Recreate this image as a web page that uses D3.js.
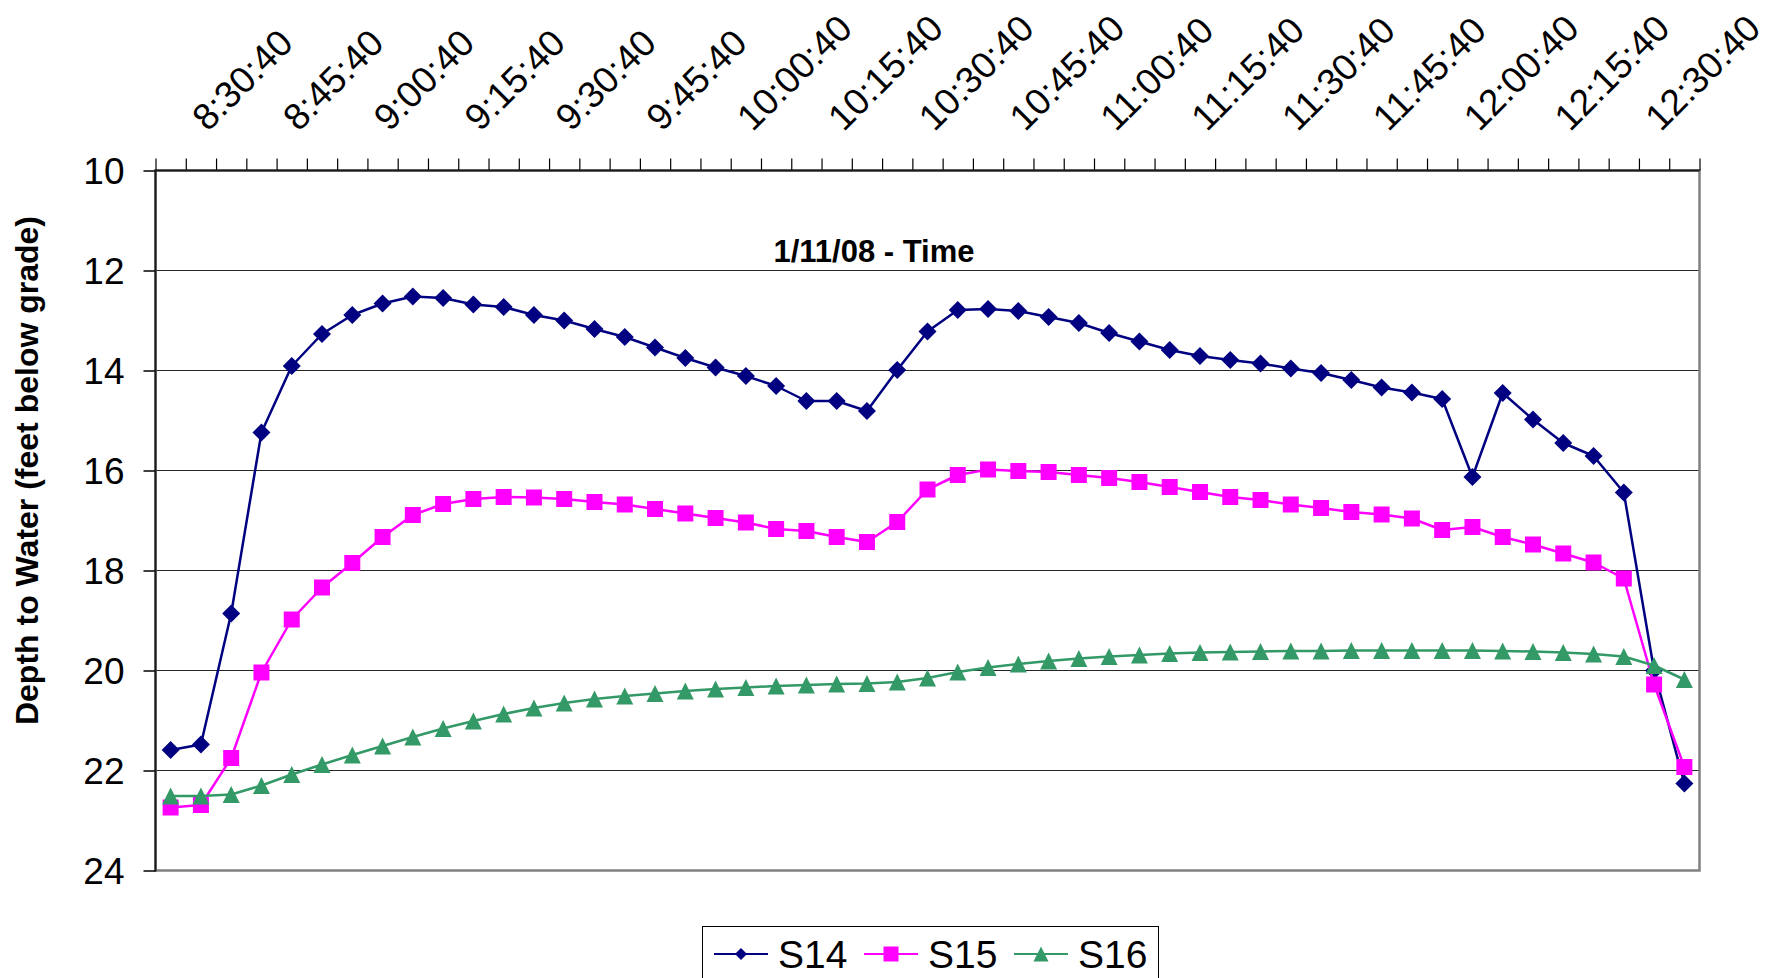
<!doctype html>
<html>
<head>
<meta charset="UTF-8">
<title>Depth to Water</title>
<script src="https://d3js.org/d3.v7.min.js"></script>
<style>
	body {
		margin: 0;
		background: #fff;
	}
	.chart text {
		font-family: 'Liberation Sans', Arial, sans-serif;
		fill: #000;
	}
	.axis path {
		display: none;
	}
	.axis line {
		stroke: #000;
	}
</style>
</head>

<body>
<svg class="chart" width="1767" height="978"></svg>
<script>
// readings, one per 5 minutes
var times = [
	'8:30:40', '8:35:40', '8:40:40', '8:45:40', '8:50:40', '8:55:40',
	'9:00:40', '9:05:40', '9:10:40', '9:15:40', '9:20:40', '9:25:40',
	'9:30:40', '9:35:40', '9:40:40', '9:45:40', '9:50:40', '9:55:40',
	'10:00:40', '10:05:40', '10:10:40', '10:15:40', '10:20:40', '10:25:40',
	'10:30:40', '10:35:40', '10:40:40', '10:45:40', '10:50:40', '10:55:40',
	'11:00:40', '11:05:40', '11:10:40', '11:15:40', '11:20:40', '11:25:40',
	'11:30:40', '11:35:40', '11:40:40', '11:45:40', '11:50:40', '11:55:40',
	'12:00:40', '12:05:40', '12:10:40', '12:15:40', '12:20:40', '12:25:40',
	'12:30:40', '12:35:40', '12:40:40'
];
var labelTimes = [
	'8:30:40', '8:45:40', '9:00:40', '9:15:40', '9:30:40', '9:45:40',
	'10:00:40', '10:15:40', '10:30:40', '10:45:40', '11:00:40', '11:15:40',
	'11:30:40', '11:45:40', '12:00:40', '12:15:40', '12:30:40'
];
var s14 = [
	21.59, 21.48, 18.86, 15.24, 13.91, 13.27, 12.89, 12.66, 12.52, 12.55,
	12.68, 12.73, 12.89, 13.00, 13.17, 13.33, 13.54, 13.75, 13.94, 14.11,
	14.31, 14.61, 14.61, 14.81, 13.99, 13.22, 12.79, 12.77, 12.81, 12.93,
	13.05, 13.25, 13.42, 13.59, 13.71, 13.79, 13.86, 13.96, 14.05, 14.19,
	14.34, 14.44, 14.57, 16.13, 14.45, 14.98, 15.45, 15.71, 16.44, 20.00,
	22.26
];
var s15 = [
	22.74, 22.69, 21.75, 20.04, 18.98, 18.34, 17.85, 17.33, 16.89, 16.67,
	16.57, 16.53, 16.54, 16.57, 16.63, 16.68, 16.77, 16.86, 16.95, 17.04,
	17.17, 17.21, 17.33, 17.43, 17.03, 16.38, 16.09, 15.98, 16.01, 16.03,
	16.09, 16.15, 16.23, 16.33, 16.43, 16.53, 16.59, 16.68, 16.75, 16.83,
	16.88, 16.96, 17.19, 17.13, 17.33, 17.48, 17.66, 17.84, 18.16, 20.28,
	21.93
];
var s16 = [
	22.51, 22.51, 22.48, 22.30, 22.08, 21.88, 21.69, 21.51, 21.33, 21.16,
	21.01, 20.87, 20.75, 20.65, 20.57, 20.51, 20.46, 20.41, 20.37, 20.34,
	20.31, 20.29, 20.27, 20.26, 20.23, 20.15, 20.03, 19.94, 19.87, 19.81,
	19.76, 19.72, 19.69, 19.66, 19.64, 19.63, 19.62, 19.61, 19.61, 19.60,
	19.60, 19.60, 19.60, 19.60, 19.61, 19.62, 19.64, 19.67, 19.72, 19.90,
	20.18
];
var seriesNames = ['S14', 'S15', 'S16'];
var yTicks = [10, 12, 14, 16, 18, 20, 22, 24];

var series = [
	{name: seriesNames[0], values: s14, color: '#000080', marker: 'diamond'},
	{name: seriesNames[1], values: s15, color: '#ff00ff', marker: 'square'},
	{name: seriesNames[2], values: s16, color: '#339966', marker: 'triangle'}
];

var chart = d3.select('.chart');
var plot = {left: 155.5, right: 1699.5, top: 170.5, bottom: 870.5};

var x = d3.scaleBand()
	.domain(times)
	.range([plot.left, plot.right]);
var xEdge = d3.scaleLinear()
	.domain([0, times.length])
	.range([plot.left, plot.right]);
var y = d3.scaleLinear()
	.domain([10, 24])
	.range([plot.top, plot.bottom]);

function cx(d, i) {
	return x(times[i]) + x.bandwidth() / 2;
}
function markerPath(type, r) {
	if (type === 'diamond') {
		return 'M0,' + (-r) + 'L' + r + ',0L0,' + r + 'L' + (-r) + ',0Z';
	}
	if (type === 'square') {
		return 'M' + (-r) + ',' + (-r) + 'H' + r + 'V' + r + 'H' + (-r) + 'Z';
	}
	return 'M0,' + (-r) + 'L' + r + ',' + r + 'L' + (-r) + ',' + r + 'Z';
}
var markerSize = {diamond: 9, square: 8, triangle: 8.5};

// gridlines
chart.append('g')
	.selectAll('line')
	.data(yTicks.slice(1, -1))
	.enter().append('line')
	.attr('x1', plot.left)
	.attr('x2', plot.right)
	.attr('y1', y)
	.attr('y2', y)
	.attr('stroke', '#262626')
	.attr('stroke-width', 1);

// plot area border
chart.append('rect')
	.attr('x', plot.left)
	.attr('y', plot.top)
	.attr('width', plot.right - plot.left)
	.attr('height', plot.bottom - plot.top)
	.attr('fill', 'none')
	.attr('stroke', '#808080')
	.attr('stroke-width', 2.5);

// category ticks between readings (axis sits on top, y is reversed)
chart.append('g')
	.attr('class', 'axis')
	.attr('transform', 'translate(0,' + plot.top + ')')
	.call(d3.axisTop(xEdge).tickValues(d3.range(times.length + 1)).tickSize(12).tickFormat(''))
	.selectAll('line')
	.attr('stroke-width', 1.2);

var xLabels = chart.append('g')
	.attr('class', 'axis')
	.attr('transform', 'translate(0,' + plot.top + ')')
	.call(d3.axisTop(x).tickValues(labelTimes).tickSize(0));
xLabels.selectAll('text')
	.attr('x', 0)
	.attr('y', 0)
	.attr('dy', 0)
	.attr('text-anchor', 'start')
	.attr('transform', 'translate(37,-38) rotate(-45)')
	.style('font-size', '37px');

var yAxis = chart.append('g')
	.attr('class', 'axis')
	.attr('transform', 'translate(' + plot.left + ',0)')
	.call(d3.axisLeft(y).tickValues(yTicks).tickSize(12).tickPadding(19));
yAxis.selectAll('line')
	.attr('stroke-width', 1.5);
yAxis.selectAll('text')
	.attr('dy', '0.36em')
	.style('font-size', '37px');

// axis lines
chart.append('line')
	.attr('x1', plot.left - 1)
	.attr('x2', plot.right)
	.attr('y1', plot.top)
	.attr('y2', plot.top)
	.attr('stroke', '#1a1a1a')
	.attr('stroke-width', 2);
chart.append('line')
	.attr('x1', plot.left)
	.attr('x2', plot.left)
	.attr('y1', plot.top)
	.attr('y2', plot.bottom + 1)
	.attr('stroke', '#1a1a1a')
	.attr('stroke-width', 2);

// series
var line = d3.line()
	.x(cx)
	.y(function(d) {
		return y(d);
	});
var groups = chart.selectAll('.series')
	.data(series)
	.enter().append('g')
	.attr('class', 'series');
groups.append('path')
	.attr('d', function(s) {
		return line(s.values);
	})
	.attr('fill', 'none')
	.attr('stroke', function(s) {
		return s.color;
	})
	.attr('stroke-width', 2.5)
	.attr('stroke-linejoin', 'round');
groups.each(function(s) {
	d3.select(this).selectAll('.pt')
		.data(s.values)
		.enter().append('path')
		.attr('class', 'pt')
		.attr('transform', function(d, i) {
			return 'translate(' + cx(d, i) + ',' + y(d) + ')';
		})
		.attr('d', markerPath(s.marker, markerSize[s.marker]))
		.attr('fill', s.color);
});

// titles
chart.append('text')
	.attr('x', 874)
	.attr('y', 262)
	.attr('text-anchor', 'middle')
	.style('font-size', '31px')
	.style('font-weight', 'bold')
	.text('1/11/08 - Time');
chart.append('text')
	.attr('transform', 'translate(38,470.5) rotate(-90)')
	.attr('text-anchor', 'middle')
	.style('font-size', '32px')
	.style('font-weight', 'bold')
	.text('Depth to Water (feet below grade)');

// legend
var legend = chart.append('g');
legend.append('rect')
	.attr('x', 702.5)
	.attr('y', 926.5)
	.attr('width', 456)
	.attr('height', 70)
	.attr('fill', '#fff')
	.attr('stroke', '#000')
	.attr('stroke-width', 1);
var entry = legend.selectAll('.entry')
	.data(series)
	.enter().append('g')
	.attr('class', 'entry')
	.attr('transform', function(s, i) {
		return 'translate(' + (714 + i * 150) + ',954)';
	});
entry.append('line')
	.attr('x1', 0)
	.attr('x2', 54)
	.attr('stroke', function(s) {
		return s.color;
	})
	.attr('stroke-width', 2);
entry.append('path')
	.attr('transform', 'translate(27,0)')
	.attr('d', function(s) {
		return markerPath(s.marker, s.marker === 'diamond' ? 6 : 7.5);
	})
	.attr('fill', function(s) {
		return s.color;
	});
entry.append('text')
	.attr('x', 64)
	.attr('y', 14)
	.style('font-size', '39px')
	.text(function(s) {
		return s.name;
	});
</script>
</body>
</html>
